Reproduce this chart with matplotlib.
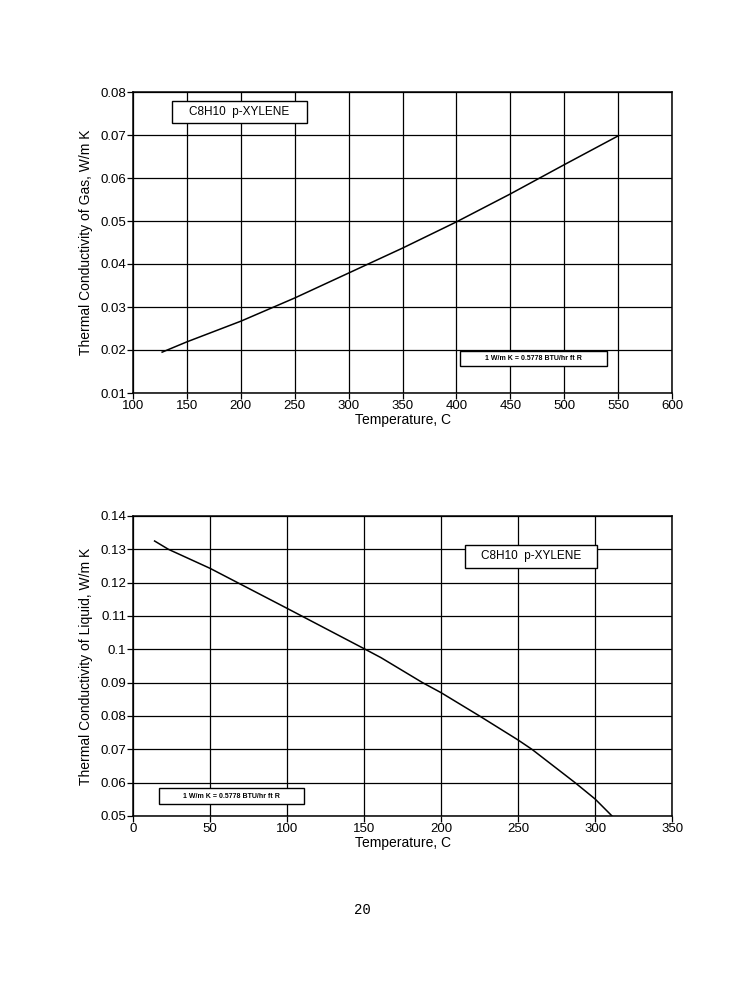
"""
p-Xylene thermal conductivity charts (gas and liquid), one page.
"""

import matplotlib
matplotlib.use("Agg")
import matplotlib.pyplot as plt
from matplotlib.patches import Rectangle

plt.rcParams["font.family"] = ["Liberation Sans", "DejaVu Sans"]

# gas curve
gas_temp = [127, 150, 200, 250, 300, 350, 400, 450, 500, 550]
gas_k = [0.0195, 0.0219, 0.0267, 0.0321, 0.0379, 0.0437, 0.0498, 0.0563, 0.0631, 0.0698]

# liquid curve
liq_temp = [14, 23, 50, 100, 150, 161, 188, 200, 225, 250, 259, 287, 300, 311]
liq_k = [0.1325, 0.1300, 0.1243, 0.1123, 0.1002, 0.0975, 0.0900, 0.0870, 0.0800,
         0.0728, 0.0700, 0.0600, 0.0551, 0.0500]

gas_xticks = list(range(100, 601, 50))
gas_yticks = [0.01, 0.02, 0.03, 0.04, 0.05, 0.06, 0.07, 0.08]
liq_xticks = list(range(0, 351, 50))
liq_yticks = [0.05, 0.06, 0.07, 0.08, 0.09, 0.1, 0.11, 0.12, 0.13, 0.14]

title_text = "C8H10  p-XYLENE"
conv_text = "1 W/m K = 0.5778 BTU/hr ft R"


def fmt(v):
    return f"{v:g}" if v in (0.1,) else f"{v:.2f}"


def style_axes(ax, xticks, yticks, xlabel, ylabel):
    ax.set_xlim(xticks[0], xticks[-1])
    ax.set_ylim(yticks[0], yticks[-1])
    ax.set_xticks(xticks)
    ax.set_yticks(yticks)
    ax.set_yticklabels([fmt(v) for v in yticks])
    ax.grid(True, color="black", linewidth=0.9)
    ax.set_axisbelow(True)
    for s in ax.spines.values():
        s.set_linewidth(1.1)
    ax.tick_params(direction="out", length=4, width=0.9, labelsize=9.5, pad=1)
    ax.set_xlabel(xlabel, fontsize=10, labelpad=1)
    ax.set_ylabel(ylabel, fontsize=10, labelpad=5)


def label_box(ax, x0, y0, x1, y1, text, size, weight="normal"):
    # boxes are placed in axes fraction
    ax.add_patch(Rectangle((x0, y0), x1 - x0, y1 - y0, transform=ax.transAxes,
                           facecolor="white", edgecolor="black", linewidth=1.0,
                           zorder=5))
    ax.text((x0 + x1) / 2, (y0 + y1) / 2, text, transform=ax.transAxes,
            ha="center", va="center", fontsize=size, fontweight=weight, zorder=6)


fig = plt.figure(figsize=(7.55, 10), dpi=100)

ax1 = fig.add_axes([0.1762, 0.607, 0.714, 0.301])
ax1.plot(gas_temp, gas_k, color="black", linewidth=1.1)
style_axes(ax1, gas_xticks, gas_yticks, "Temperature, C",
           "Thermal Conductivity of Gas, W/m K")
label_box(ax1, 0.072, 0.897, 0.323, 0.970, title_text, 8.5)
label_box(ax1, 0.607, 0.090, 0.879, 0.140, conv_text, 5, "bold")

ax2 = fig.add_axes([0.1762, 0.184, 0.714, 0.300])
ax2.plot(liq_temp, liq_k, color="black", linewidth=1.1)
style_axes(ax2, liq_xticks, liq_yticks, "Temperature, C",
           "Thermal Conductivity of Liquid, W/m K")
label_box(ax2, 0.615, 0.827, 0.861, 0.903, title_text, 8.5)
label_box(ax2, 0.048, 0.040, 0.317, 0.093, conv_text, 5, "bold")

fig.text(0.4795, 0.090, "20", ha="center", va="center", fontsize=10,
         family=["Liberation Mono", "DejaVu Sans Mono"])

fig.savefig("out.png", dpi=100)
